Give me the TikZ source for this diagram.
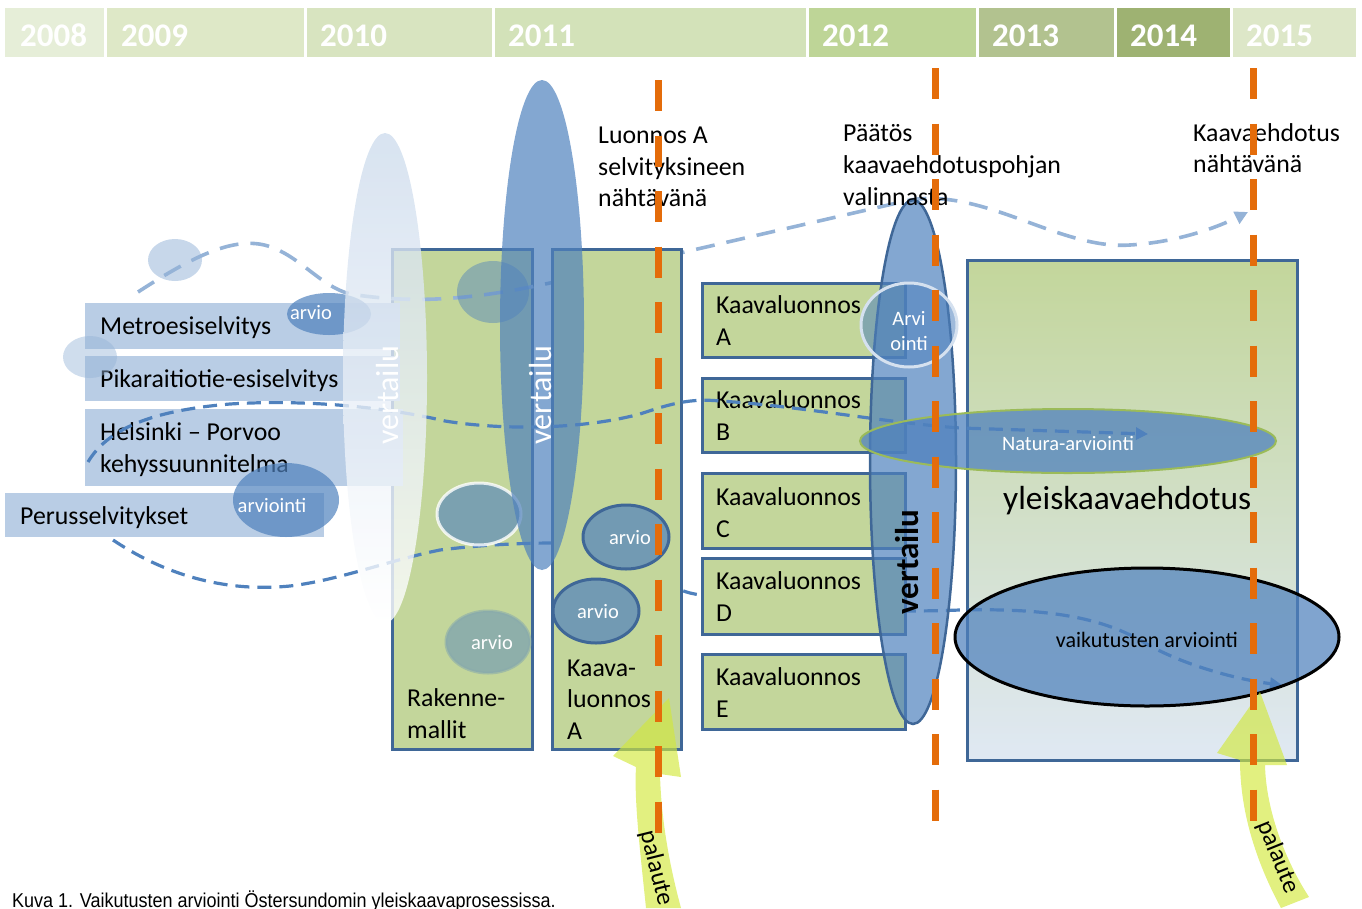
\documentclass[tikz,border=0pt]{standalone}
\usepackage{fontspec}
\setmainfont{Carlito}
\newfontfamily\capfont[FakeStretch=0.9]{Liberation Sans}
\usetikzlibrary{shapes.geometric,arrows.meta}
\definecolor{yr08}{HTML}{E6EED8}
\definecolor{yr09}{HTML}{DEE8C7}
\definecolor{yr10}{HTML}{D8E4C0}
\definecolor{yr11}{HTML}{D3E2B9}
\definecolor{yr12}{HTML}{BED597}
\definecolor{yr13}{HTML}{B2C28F}
\definecolor{yr14}{HTML}{9EB272}
\definecolor{yr15}{HTML}{DDE7C8}
\definecolor{boxgreen}{HTML}{C3D69B}
\definecolor{boxborder}{HTML}{3F6797}
\definecolor{ltbox}{HTML}{B9CDE5}
\definecolor{midblue}{HTML}{4F81BD}
\definecolor{paleblue}{HTML}{95B3D7}
\definecolor{orng}{HTML}{E46C0A}
\definecolor{natgreen}{HTML}{9BBB59}
\definecolor{palgreen}{HTML}{D2E83C}
\tikzset{
  yrtext/.style={anchor=base west, text=white, font=\fontsize{33}{33}\selectfont\bfseries, inner sep=0},
  lbl/.style={anchor=base west, font=\fontsize{25.8}{25.8}\selectfont, inner sep=0},
  smw/.style={text=white, font=\fontsize{20.5}{20.5}\selectfont, inner sep=0},
  gbox/.style={fill=boxgreen, draw=boxborder, line width=3pt},
  oval/.style={ellipse, inner sep=0},
  bluedash/.style={draw=midblue, line width=3.2pt, dash pattern=on 14pt off 8pt},
  palebluedash/.style={draw=paleblue, line width=3.6pt, dash pattern=on 19pt off 12pt},
  orangedash/.style={draw=orng, line width=7pt, dash pattern=on 31pt off 24.5pt},
  fbarrow/.style={fill=palgreen, fill opacity=0.65},
  vtext/.style={rotate=90, font=\fontsize{32}{32}\selectfont, inner sep=0},
  paltext/.style={inner sep=0, font=\fontsize{25}{25}\selectfont},
}
\begin{document}
\begin{tikzpicture}[x=1pt,y=-1pt]
\useasboundingbox (0,0) rectangle (1362,908);
% ---------------- year bar
\fill[yr08] (5,8) rectangle (104,57);
\fill[yr09] (107,8) rectangle (304,57);
\fill[yr10] (307,8) rectangle (492,57);
\fill[yr11] (495,8) rectangle (806,57);
\fill[yr12] (809,8) rectangle (976,57);
\fill[yr13] (979,8) rectangle (1114,57);
\fill[yr14] (1117,8) rectangle (1230,57);
\fill[yr15] (1233,8) rectangle (1356,57);
\node[yrtext] (t08) at (20,46) {2008};
\node[yrtext] (t09) at (121,46) {2009};
\node[yrtext] (t10) at (320,46) {2010};
\node[yrtext] (t11) at (508,46) {2011};
\node[yrtext] (t12) at (822,46) {2012};
\node[yrtext] (t13) at (992,46) {2013};
\node[yrtext] (t14) at (1130,46) {2014};
\node[yrtext] (t15) at (1246,46) {2015};
% ---------------- big boxes
\draw[gbox] (392,249) rectangle (532,749);
\shade[top color=boxgreen, middle color=ltbox!80!white, bottom color=ltbox!45!white] (967,260) rectangle (1297,760);
\draw[boxborder, line width=3pt] (967,260) rectangle (1297,760);
% ---------------- left study boxes
\fill[ltbox] (85,303) rectangle (400,349);
\fill[ltbox] (85,356) rectangle (400,401);
\fill[ltbox] (85,409) rectangle (403,486);
\fill[ltbox] (5,493) rectangle (324,537);
\node[lbl] (metro) at (100,334) {Metroesiselvitys};
\node[lbl] (pika) at (100,387) {Pikaraitiotie-esiselvitys};
\node[lbl] (hp1) at (100,440) {Helsinki -- Porvoo};
\node[lbl] (hp2) at (100,472) {kehyssuunnitelma};
\node[lbl] (perus) at (20,524) {Perusselvitykset};
% small circles left
\node[oval, minimum width=54pt, minimum height=42pt, fill=ltbox, fill opacity=0.8] (c1) at (175,260) {};
\node[oval, minimum width=54pt, minimum height=42pt, fill=paleblue, fill opacity=0.45] (c2) at (90,357) {};
\node[oval, minimum width=84pt, minimum height=42pt, fill=midblue, fill opacity=0.7] (ar1) at (329,314) {};
\node[smw] at (311,313) {arvio};
\node[oval, minimum width=106pt, minimum height=74pt, fill=midblue, fill opacity=0.7] (ar2) at (286,500) {};
\node[smw] at (272,505) {arviointi};
% ---------------- dashed curves (top and bottom)
\draw[palebluedash, -{Triangle[length=13pt,width=13pt]}] (138,292) .. controls (195,255) and (235,236) .. (268,246) .. controls (300,256) and (320,286) .. (350,294) .. controls (420,305) and (480,298) .. (550,283) -- (910,200) .. controls (985,188) and (1060,250) .. (1130,245) .. controls (1180,242) and (1220,226) .. (1248,212);
\draw[bluedash, -{Triangle[length=12pt,width=12pt]}] (113,540) .. controls (170,578) and (230,592) .. (290,586) .. controls (340,580) and (390,560) .. (440,550) .. controls (480,545) and (520,543) .. (555,543) .. controls (600,545) and (650,582) .. (690,593) .. controls (750,606) and (850,614) .. (960,610) .. controls (1050,608) and (1100,618) .. (1140,640) .. controls (1180,665) and (1240,680) .. (1282,685);
% ---------------- draft boxes
\draw[gbox] (552,249) rectangle (681,749);
\draw[gbox] (702,283) rectangle (905,357);
\draw[gbox] (702,378) rectangle (905,452);
\draw[gbox] (702,473) rectangle (905,548);
\draw[gbox] (702,558) rectangle (905,634);
\draw[gbox] (702,654) rectangle (905,729);
\node[lbl] (ka1) at (716,313) {Kaavaluonnos};
\node[lbl] (ka2) at (716,345) {A};
\node[lbl] (kb1) at (716,408) {Kaavaluonnos};
\node[lbl] (kb2) at (716,440) {B};
\node[lbl] (kc1) at (716,505) {Kaavaluonnos};
\node[lbl] (kc2) at (716,537) {C};
\node[lbl] (kd1) at (716,589) {Kaavaluonnos};
\node[lbl] (kd2) at (716,621) {D};
\node[lbl] (ke1) at (716,685) {Kaavaluonnos};
\node[lbl] (ke2) at (716,717) {E};
% middle curve
\draw[bluedash, -{Triangle[length=12pt,width=12pt]}] (88,462) .. controls (110,425) and (160,410) .. (230,404) .. controls (310,399) and (390,408) .. (445,421) .. controls (500,430) and (580,430) .. (640,414) .. controls (670,404) and (690,398) .. (720,401) .. controls (800,406) and (880,422) .. (960,428) -- (1148,434);
% ---------------- vertailu 1 (light)
\shade[top color=ltbox!70!white, middle color=ltbox, bottom color=white, fill opacity=0.8] (385,378) ellipse [x radius=42, y radius=245];
\node[vtext, text=white] (vt1) at (388,395) {vertailu};
% circles in Rakennemallit
\node[oval, minimum width=72pt, minimum height=62pt, fill=midblue, fill opacity=0.45] (r1) at (493,292) {};
\node[oval, minimum width=84pt, minimum height=62pt, fill=midblue, fill opacity=0.62, draw=white, draw opacity=0.8, line width=3pt] (r2) at (479,514) {};
\node[oval, minimum width=84pt, minimum height=62pt, fill=midblue, fill opacity=0.45, draw=midblue!50!boxgreen, draw opacity=0.6, line width=3pt] (r3) at (488,642) {};
\node[smw] at (492,643) {arvio};
\node[lbl] (rk1) at (407,706) {Rakenne-};
\node[lbl] (rk2) at (407,738) {mallit};
% vertailu 2
\node[oval, minimum width=84pt, minimum height=490pt, fill=midblue, fill opacity=0.7] (v2) at (542,325) {};
\node[vtext, text=white] (vt2) at (541,395) {vertailu};
% arvio circles in Kaava-luonnos A
\node[oval, minimum width=86pt, minimum height=64pt, fill=midblue!70!boxgreen, draw=boxborder, line width=3pt] (k1) at (626,537) {};
\node[smw] at (630,538) {arvio};
\node[oval, minimum width=86pt, minimum height=64pt, fill=midblue!70!boxgreen, draw=boxborder, line width=3pt] (k2) at (596,611) {};
\node[smw] at (598,612) {arvio};
\node[lbl] (kl1) at (567,676) {Kaava-};
\node[lbl] (kl2) at (567,707) {luonnos};
\node[lbl] (kl3) at (567,739) {A};
% ---------------- vertailu 3 and right side ellipses
\node[oval, minimum width=86pt, minimum height=524pt, fill=midblue, fill opacity=0.7, draw=boxborder, line width=2.5pt] (v3) at (913,462) {};
\node[vtext, font=\fontsize{33}{33}\selectfont\bfseries] (vt3) at (907,562) {vertailu};
\node[oval, minimum width=96pt, minimum height=84pt, fill=midblue, fill opacity=0.55, draw=ltbox!60!white, line width=3pt] (arv) at (909,325) {};
\node[smw] at (909,318) {Arvi};
\node[smw] at (909,343) {ointi};
\node[oval, minimum width=416pt, minimum height=64pt, fill=midblue, fill opacity=0.75, draw=natgreen, line width=2pt] (nat) at (1068,441) {};
\node[smw] (natt) at (1068,443) {Natura-arviointi};
\node[anchor=base west, inner sep=0, font=\fontsize{33.4}{33.4}\selectfont] (yk) at (1003,509) {yleiskaavaehdotus};
\node[oval, minimum width=384pt, minimum height=138pt, fill=midblue, fill opacity=0.72, draw=black, line width=3pt] (vai) at (1147,637) {};
\node[inner sep=0, font=\fontsize{22}{22}\selectfont] (vait) at (1147,640) {vaikutusten arviointi};
% ---------------- milestone texts
\node[lbl] (la1) at (598,143) {Luonnos A};
\node[lbl] (la2) at (598,175) {selvityksineen};
\node[lbl] (la3) at (598,206) {nähtävänä};
\node[lbl] (pa1) at (843,141) {Päätös};
\node[lbl] (pa2) at (843,173) {kaavaehdotuspohjan};
\node[lbl] (pa3) at (843,205) {valinnasta};
\node[lbl] (ke1t) at (1193,141) {Kaavaehdotus};
\node[lbl] (ke2t) at (1193,172) {nähtävänä};
% ---------------- palaute arrows
\fill[fbarrow] (646,908) .. controls (640,850) and (634,800) .. (636,767) -- (613,756) -- (669,698) -- (681,777) -- (660,774) .. controls (661,815) and (668,860) .. (681,908) -- cycle;
\node[paltext, rotate=-76] (pal1) at (656,868) {palaute};
\fill[fbarrow] (1281,908) .. controls (1255,860) and (1240,810) .. (1240,760) -- (1217,753) -- (1260,692) -- (1287,765) -- (1265,765) .. controls (1266,810) and (1285,860) .. (1309,897) -- cycle;
\node[paltext, rotate=-68] (pal2) at (1278,857) {palaute};
% ---------------- orange milestone lines
\draw[orangedash] (658,80) -- (658,835);
\draw[orangedash] (935,68) -- (935,822);
\draw[orangedash] (1253,68) -- (1253,822);
% ---------------- caption
\node[anchor=base west, inner sep=0, font=\capfont\fontsize{20}{20}\selectfont] (cap) at (12,907) {Kuva 1. Vaikutusten arviointi Östersundomin yleiskaavaprosessissa.};
\end{tikzpicture}
\end{document}
